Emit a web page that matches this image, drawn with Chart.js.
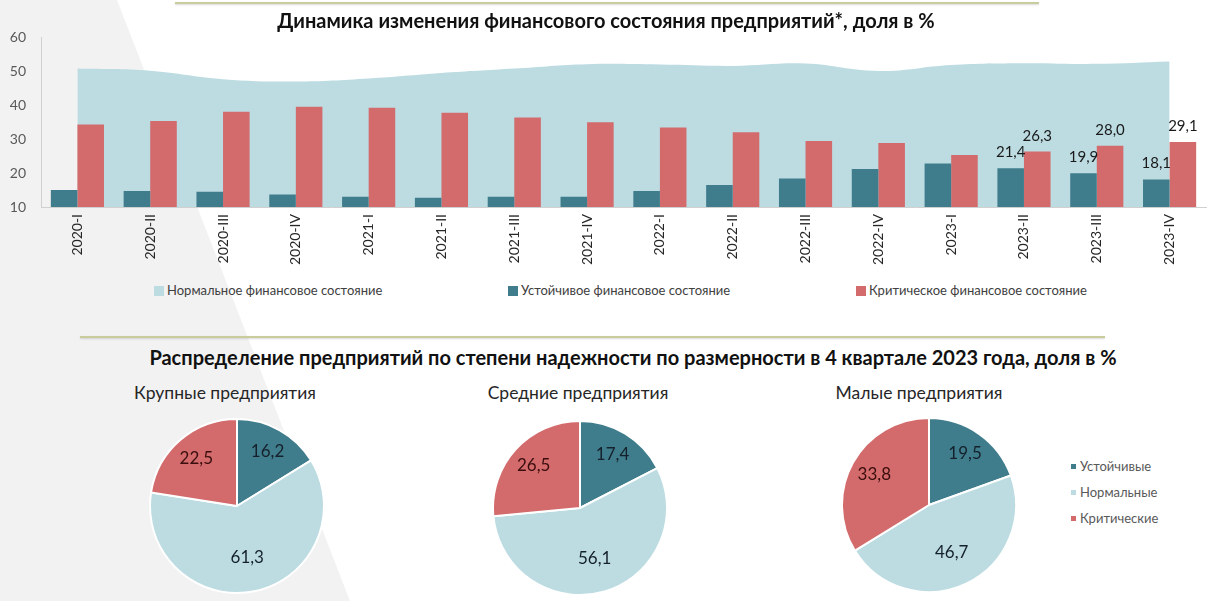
<!DOCTYPE html>
<html>
<head>
<meta charset="utf-8">
<script src="https://cdn.jsdelivr.net/npm/chart.js@4.4.1/dist/chart.umd.min.js"></script>
<style>
  body { margin: 0; width: 1229px; height: 601px; position: relative; overflow: hidden; background: #fff;
         font-family: Lato, "Open Sans", sans-serif; }
  #bg { position: absolute; left: 0; top: 0; width: 1229px; height: 601px; background: #f2f2f2;
        clip-path: polygon(0 0, 117px 0, 350px 601px, 0 601px); }
  .rule { position: absolute; height: 2px; background: #c9cc9d; box-shadow: 0 1px 2px rgba(0,0,0,.15); }
  .title { position: absolute; font-weight: bold; font-size: 20px; line-height: 24px; color: #111; white-space: nowrap;
           transform: translateX(-50%); }
  .sub { position: absolute; font-size: 17.5px; line-height: 22px; color: #262626; white-space: nowrap; transform: translateX(-50%); }
  .leg { position: absolute; font-size: 13px; color: #404040; white-space: nowrap; }
  .leg i { display: inline-block; width: 10px; height: 10px; margin-right: 3px; vertical-align: -1px; }
  .pleg { position: absolute; font-size: 13px; color: #595959; white-space: nowrap; }
  .pleg i { display: inline-block; width: 5px; height: 5px; margin-right: 4px; vertical-align: 2px; }
  canvas { position: absolute; }
</style>
</head>
<body>
<div id="bg"></div>
<div class="rule" style="left:175px; top:2px; width:864px;"></div>
<div class="rule" style="left:80px; top:336px; width:1025px;"></div>

<canvas id="trend" width="1229" height="280" style="left:0; top:0;"></canvas>
<div class="title" style="left:606px; top:8px;">Динамика изменения финансового состояния предприятий*, доля в %</div>

<div class="leg" style="left:154px; top:282px;"><i style="background:#bcdce2"></i>Нормальное финансовое состояние</div>
<div class="leg" style="left:508px; top:282px;"><i style="background:#407d8c"></i>Устойчивое финансовое состояние</div>
<div class="leg" style="left:856px; top:282px;"><i style="background:#d36b6c"></i>Критическое финансовое состояние</div>

<div class="title" style="left:633px; top:345px;">Распределение предприятий по степени надежности по размерности в 4 квартале 2023 года, доля в %</div>
<div class="sub" id="t0" style="left:225px; top:382px;"></div>
<div class="sub" id="t1" style="left:578px; top:382px;"></div>
<div class="sub" id="t2" style="left:919px; top:382px;"></div>

<canvas id="pie0" width="176" height="176" style="left:149px; top:418px;"></canvas>
<canvas id="pie1" width="176" height="176" style="left:492px; top:420px;"></canvas>
<canvas id="pie2" width="176" height="176" style="left:841px; top:417px;"></canvas>

<div class="pleg" style="left:1071px; top:458px;"><i style="background:#407d8c"></i>Устойчивые</div>
<div class="pleg" style="left:1071px; top:484px;"><i style="background:#bcdce2"></i>Нормальные</div>
<div class="pleg" style="left:1071px; top:510px;"><i style="background:#d36b6c"></i>Критические</div>

<script>
// quarterly data, % of enterprises
var quarters = ['2020-I', '2020-II', '2020-III', '2020-IV', '2021-I', '2021-II', '2021-III', '2021-IV',
                '2022-I', '2022-II', '2022-III', '2022-IV', '2023-I', '2023-II', '2023-III', '2023-IV'];
var normalShare = [50.7, 50.1, 47.6, 46.9, 47.8, 49.4, 50.7, 52.0, 51.9, 51.5, 52.2, 50.0, 51.8, 52.3, 52.1, 52.8];
var stableShare = [15.0, 14.7, 14.5, 13.7, 13.0, 12.7, 13.0, 13.0, 14.7, 16.5, 18.4, 21.2, 22.8, 21.4, 19.9, 18.1];
var criticalShare = [34.3, 35.3, 38.0, 39.5, 39.2, 37.7, 36.3, 34.9, 33.4, 32.0, 29.4, 28.8, 25.3, 26.3, 28.0, 29.1];
var yMin = 10, yMax = 60, yStep = 10;
var labeledFrom = 13; // only the last three quarters carry value labels

// Q4 2023 by enterprise size
var sizeGroups = ['Крупные предприятия', 'Средние предприятия', 'Малые предприятия'];
var reliability = ['Устойчивые', 'Нормальные', 'Критические'];
var largeShares = [16.2, 61.3, 22.5];
var mediumShares = [17.4, 56.1, 26.5];
var smallShares = [19.5, 46.7, 33.8];

var TEAL = '#407d8c', LIGHT = '#bcdce2', RED = '#d36b6c';
var FONT = 'Lato, "Open Sans", sans-serif';

function fmt(v) { return v.toFixed(1).replace('.', ','); }

// labels above the bars of the last quarters
var barLabels = {
    id: 'barLabels',
    afterDatasetsDraw: function (chart) {
        var ctx = chart.ctx;
        ctx.save();
        ctx.font = '15px ' + FONT;
        ctx.fillStyle = '#1a1a1a';
        ctx.textAlign = 'center';
        ctx.textBaseline = 'alphabetic';
        chart.data.datasets.forEach(function (ds, di) {
            if (ds.type !== 'bar') return;
            chart.getDatasetMeta(di).data.forEach(function (bar, i) {
                if (i < labeledFrom) return;
                ctx.fillText(fmt(ds.data[i]), bar.x, bar.y - 11);
            });
        });
        ctx.restore();
    }
};

new Chart(document.getElementById('trend').getContext('2d'), {
    data: {
        labels: quarters,
        datasets: [{
            type: 'bar',
            label: 'Устойчивое финансовое состояние',
            data: stableShare,
            backgroundColor: TEAL,
            order: 1
        }, {
            type: 'bar',
            label: 'Критическое финансовое состояние',
            data: criticalShare,
            backgroundColor: RED,
            order: 1
        }, {
            type: 'line',
            label: 'Нормальное финансовое состояние',
            data: normalShare,
            borderWidth: 0,
            pointRadius: 0,
            tension: 0.4,
            fill: 'start',
            backgroundColor: LIGHT,
            order: 2
        }]
    },
    options: {
        responsive: false,
        animation: false,
        layout: { padding: { left: 0, right: 23, top: 37, bottom: 0 } },
        datasets: { bar: { categoryPercentage: 0.73, barPercentage: 1.0 } },
        plugins: { legend: { display: false }, tooltip: { enabled: false } },
        scales: {
            x: {
                grid: { display: false, drawTicks: false },
                border: { color: '#d0d0d0' },
                ticks: { autoSkip: false, minRotation: 90, maxRotation: 90, padding: 7,
                         color: '#262626', font: { family: FONT, size: 14 } },
                afterFit: function (s) { s.height = 73; }
            },
            y: {
                min: yMin, max: yMax,
                grid: { display: false, drawTicks: false },
                border: { color: '#d0d0d0' },
                ticks: { stepSize: yStep, padding: 15, color: '#595959', font: { family: FONT, size: 14 } },
                afterFit: function (s) { s.width = 41; }
            }
        }
    },
    plugins: [barLabels]
});

// numbers inside the pie slices
var pieLabels = {
    id: 'pieLabels',
    afterDatasetsDraw: function (chart) {
        var ctx = chart.ctx;
        var ds = chart.data.datasets[0];
        ctx.save();
        ctx.font = '17px ' + FONT;
        ctx.textAlign = 'center';
        ctx.textBaseline = 'middle';
        chart.getDatasetMeta(0).data.forEach(function (arc, i) {
            var p = arc.getProps(['x', 'y', 'startAngle', 'endAngle', 'outerRadius']);
            var mid = (p.startAngle + p.endAngle) / 2;
            var r = p.outerRadius * (i === 1 ? 0.6 : 0.72);
            ctx.fillStyle = i === 2 ? '#3a0d0d' : '#14202b';
            ctx.fillText(fmt(ds.data[i]), p.x + Math.cos(mid) * r, p.y + Math.sin(mid) * r);
        });
        ctx.restore();
    }
};

[largeShares, mediumShares, smallShares].forEach(function (shares, k) {
    document.getElementById('t' + k).textContent = sizeGroups[k];
    new Chart(document.getElementById('pie' + k).getContext('2d'), {
        type: 'pie',
        data: {
            labels: reliability,
            datasets: [{
                data: shares,
                backgroundColor: [TEAL, LIGHT, RED],
                borderColor: '#ffffff',
                borderWidth: 2
            }]
        },
        options: {
            responsive: false,
            animation: false,
            plugins: { legend: { display: false }, tooltip: { enabled: false } }
        },
        plugins: [pieLabels]
    });
});
</script>
</body>
</html>
